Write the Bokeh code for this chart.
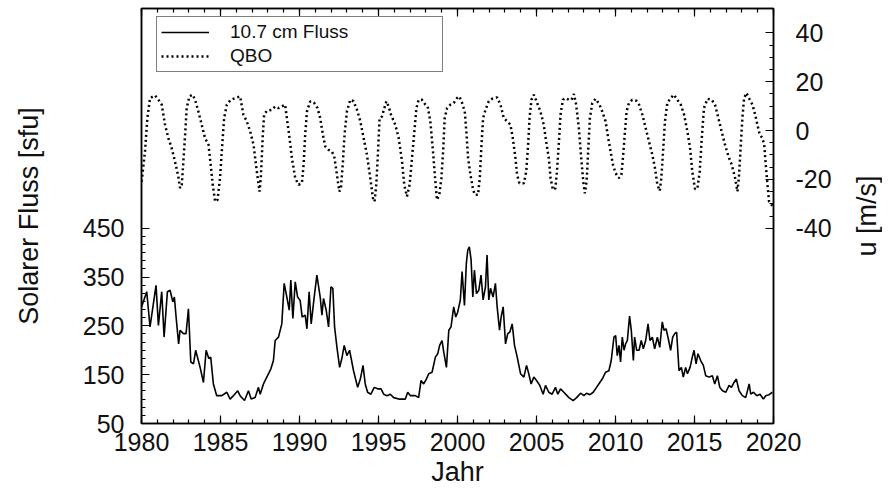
import math
from bokeh.plotting import figure
from bokeh.layouts import row
from bokeh.models import Range1d, LinearAxis, FixedTicker, Legend, LegendItem
from bokeh.core.properties import value
from bokeh.embed import file_html
from bokeh.resources import INLINE

# ---------------- data ----------------
solar_year = [1980.01, 1980.33, 1980.54, 1980.92, 1981.07, 1981.28, 1981.43, 1981.64, 1981.81, 1981.98,
              1982.08, 1982.19, 1982.35, 1982.44, 1982.65, 1982.82, 1982.97, 1983.12, 1983.29, 1983.43,
              1983.71, 1983.92, 1984.09, 1984.26, 1984.38, 1984.55, 1984.76, 1985.08, 1985.40, 1985.61,
              1985.82, 1986.09, 1986.24, 1986.52, 1986.77, 1986.94, 1987.19, 1987.40, 1987.51, 1987.72,
              1987.93, 1988.19, 1988.35, 1988.46, 1988.67, 1988.88, 1989.03, 1989.20, 1989.35, 1989.45,
              1989.58, 1989.73, 1989.88, 1990.04, 1990.17, 1990.36, 1990.47, 1990.61, 1990.74, 1990.93,
              1991.10, 1991.31, 1991.42, 1991.52, 1991.69, 1991.84, 1991.99, 1992.11, 1992.22, 1992.37,
              1992.54, 1992.68, 1992.83, 1993.00, 1993.17, 1993.42, 1993.68, 1993.85, 1994.02, 1994.16,
              1994.31, 1994.52, 1994.73, 1994.95, 1995.16, 1995.33, 1995.54, 1995.75, 1995.96, 1996.28,
              1996.55, 1996.70, 1996.85, 1997.02, 1997.33, 1997.54, 1997.69, 1997.86, 1998.03, 1998.18,
              1998.39, 1998.60, 1998.75, 1998.87, 1999.02, 1999.13, 1999.30, 1999.45, 1999.59, 1999.76,
              1999.89, 2000.01, 2000.18, 2000.29, 2000.44, 2000.56, 2000.65, 2000.75, 2000.86, 2000.97,
              2001.07, 2001.20, 2001.35, 2001.49, 2001.62, 2001.77, 2001.87, 2001.98, 2002.09, 2002.25,
              2002.40, 2002.51, 2002.66, 2002.76, 2002.89, 2003.04, 2003.18, 2003.31, 2003.46, 2003.61,
              2003.78, 2003.99, 2004.20, 2004.37, 2004.51, 2004.66, 2004.83, 2005.00, 2005.21, 2005.42,
              2005.57, 2005.78, 2005.99, 2006.20, 2006.35, 2006.52, 2006.73, 2007.05, 2007.32, 2007.54,
              2007.79, 2008.00, 2008.17, 2008.38, 2008.59, 2008.80, 2009.01, 2009.16, 2009.37, 2009.58,
              2009.73, 2009.90, 2010.01, 2010.11, 2010.22, 2010.32, 2010.43, 2010.54, 2010.64, 2010.75,
              2010.89, 2011.00, 2011.13, 2011.21, 2011.34, 2011.49, 2011.63, 2011.76, 2011.91, 2012.06,
              2012.18, 2012.33, 2012.48, 2012.65, 2012.80, 2012.96, 2013.07, 2013.20, 2013.32, 2013.49,
              2013.62, 2013.75, 2013.87, 2014.02, 2014.17, 2014.29, 2014.44, 2014.55, 2014.72, 2014.86,
              2014.97, 2015.10, 2015.22, 2015.39, 2015.56, 2015.71, 2015.92, 2016.13, 2016.28, 2016.45,
              2016.60, 2016.77, 2016.98, 2017.19, 2017.34, 2017.50, 2017.65, 2017.82, 2018.03, 2018.24,
              2018.46, 2018.56, 2018.73, 2018.94, 2019.15, 2019.36, 2019.51, 2019.72, 2019.93]
solar_flux = [289, 320, 248, 333, 251, 320, 227, 320, 323, 299,
              309, 268, 213, 241, 234, 234, 285, 176, 172, 200,
              165, 134, 200, 183, 186, 131, 107, 107, 114, 100,
              107, 117, 107, 97, 117, 100, 103, 124, 110, 131,
              145, 162, 179, 220, 227, 254, 337, 309, 282, 344,
              265, 340, 309, 302, 268, 272, 244, 320, 254, 309,
              354, 309, 272, 306, 282, 248, 330, 327, 248, 206,
              165, 183, 210, 189, 200, 158, 124, 141, 169, 131,
              114, 110, 124, 121, 121, 110, 107, 110, 103, 100,
              100, 100, 114, 107, 107, 103, 138, 131, 141, 152,
              155, 186, 193, 210, 220, 196, 165, 241, 248, 289,
              268, 278, 303, 361, 292, 378, 405, 412, 385, 309,
              364, 316, 323, 354, 303, 330, 395, 303, 327, 309,
              337, 289, 241, 268, 289, 213, 234, 237, 254, 210,
              186, 152, 145, 169, 152, 131, 145, 138, 128, 110,
              128, 114, 110, 124, 110, 121, 114, 103, 97, 103,
              112, 107, 112, 109, 114, 124, 134, 141, 155, 158,
              179, 227, 230, 189, 210, 176, 227, 200, 213, 220,
              270, 241, 179, 227, 200, 200, 220, 203, 220, 254,
              220, 227, 203, 227, 206, 258, 241, 244, 227, 200,
              227, 234, 237, 158, 165, 145, 165, 152, 165, 186,
              200, 172, 193, 179, 169, 148, 145, 148, 131, 148,
              124, 117, 114, 128, 124, 134, 141, 117, 107, 103,
              131, 110, 114, 107, 110, 100, 107, 109, 114]

qbo_year = [1980.01, 1980.22, 1980.37, 1980.54, 1980.86, 1981.07, 1981.28, 1981.49, 1981.70, 1981.91,
            1982.12, 1982.33, 1982.44, 1982.55, 1982.65, 1982.76, 1982.86, 1983.03, 1983.24, 1983.39,
            1983.60, 1983.81, 1984.02, 1984.24, 1984.38, 1984.51, 1984.66, 1984.81, 1984.97, 1985.08,
            1985.23, 1985.40, 1985.65, 1985.93, 1986.24, 1986.45, 1986.66, 1986.88, 1987.09, 1987.30,
            1987.47, 1987.55, 1987.68, 1987.76, 1987.93, 1988.25, 1988.46, 1988.67, 1988.88, 1989.09,
            1989.20, 1989.37, 1989.52, 1989.73, 1989.94, 1990.15, 1990.26, 1990.36, 1990.47, 1990.68,
            1990.93, 1991.14, 1991.31, 1991.48, 1991.63, 1991.84, 1992.05, 1992.20, 1992.37, 1992.52,
            1992.62, 1992.75, 1992.85, 1993.00, 1993.21, 1993.42, 1993.64, 1993.85, 1994.06, 1994.27,
            1994.48, 1994.65, 1994.75, 1994.86, 1994.97, 1995.07, 1995.22, 1995.37, 1995.50, 1995.64,
            1995.79, 1996.06, 1996.28, 1996.49, 1996.63, 1996.80, 1996.97, 1997.12, 1997.27, 1997.40,
            1997.54, 1997.75, 1997.97, 1998.11, 1998.28, 1998.45, 1998.60, 1998.70, 1998.85, 1998.98,
            1999.09, 1999.19, 1999.34, 1999.55, 1999.76, 1999.97, 2000.12, 2000.29, 2000.46, 2000.56,
            2000.67, 2000.82, 2000.97, 2001.09, 2001.30, 2001.41, 2001.52, 2001.62, 2001.77, 2001.98,
            2002.19, 2002.51, 2002.72, 2002.93, 2003.14, 2003.35, 2003.50, 2003.67, 2003.77, 2003.92,
            2004.20, 2004.35, 2004.47, 2004.56, 2004.68, 2004.83, 2005.04, 2005.25, 2005.46, 2005.61,
            2005.78, 2005.89, 2006.04, 2006.20, 2006.31, 2006.42, 2006.52, 2006.67, 2006.84, 2007.05,
            2007.22, 2007.37, 2007.51, 2007.68, 2007.83, 2007.96, 2008.06, 2008.17, 2008.27, 2008.38,
            2008.53, 2008.74, 2008.99, 2009.16, 2009.37, 2009.54, 2009.69, 2009.84, 2010.01, 2010.22,
            2010.37, 2010.47, 2010.60, 2010.70, 2010.85, 2011.06, 2011.32, 2011.49, 2011.70, 2011.91,
            2012.12, 2012.33, 2012.50, 2012.65, 2012.80, 2012.90, 2013.01, 2013.13, 2013.28, 2013.49,
            2013.70, 2013.91, 2014.13, 2014.34, 2014.55, 2014.72, 2014.86, 2015.03, 2015.18, 2015.33,
            2015.46, 2015.60, 2015.82, 2016.09, 2016.30, 2016.51, 2016.72, 2016.93, 2017.15, 2017.36,
            2017.57, 2017.72, 2017.82, 2017.93, 2018.03, 2018.14, 2018.29, 2018.50, 2018.67, 2018.84,
            2018.98, 2019.13, 2019.30, 2019.41, 2019.51, 2019.62, 2019.72, 2019.95]
qbo_u = [-20.9, -8.6, 5.1, 13.3, 14.4, 12.6, 10.6, 2.4, -3.1, -7.2,
         -12.7, -18.8, -23.6, -22.2, -12.7, -1.7, 9.2, 14.0, 14.7, 12.6,
         7.8, 2.4, -3.1, -5.8, -14.0, -22.2, -29.1, -28.4, -19.5, -8.6,
         5.1, 10.6, 12.6, 13.3, 14.0, 6.5, 3.8, -0.4, -5.8, -16.8,
         -25.0, -19.5, -1.7, 6.5, 8.1, 8.5, 9.9, 9.2, 9.9, 10.6,
         5.1, -3.1, -11.3, -19.5, -22.2, -21.6, -14.0, -1.7, 7.8, 12.0,
         11.3, 9.2, 5.1, -1.7, -6.5, -7.9, -8.6, -10.6, -18.1, -25.0,
         -23.6, -12.7, -1.7, 7.8, 12.6, 12.0, 8.5, 3.8, -3.1, -9.9,
         -19.5, -27.7, -29.1, -22.2, -8.6, 5.1, 5.8, 9.2, 12.0, 9.9,
         6.5, 2.4, -3.1, -12.7, -22.2, -27.0, -22.2, -11.3, -0.4, 9.2,
         12.6, 12.6, 10.6, 9.9, 3.8, -8.6, -20.9, -28.4, -26.3, -19.5,
         -8.6, 5.1, 9.2, 10.6, 11.3, 13.3, 14.0, 11.3, 7.8, -0.4,
         -11.3, -18.1, -23.6, -26.3, -26.3, -19.5, -5.8, 5.1, 8.5, 12.0,
         13.0, 13.6, 10.6, 5.1, 3.8, 2.4, -3.1, -11.3, -18.1, -21.6,
         -21.6, -16.8, -5.8, 5.1, 12.6, 14.7, 11.3, 7.8, 2.4, -4.5,
         -11.3, -19.5, -24.3, -23.6, -15.4, -4.5, 6.5, 12.6, 13.3, 12.6,
         12.6, 15.0, 10.6, 1.0, -11.3, -20.9, -25.7, -20.9, -8.6, 5.1,
         11.3, 13.0, 10.6, 7.8, 3.8, -3.1, -8.6, -14.0, -17.5, -19.5,
         -18.1, -11.3, -0.4, 7.8, 11.3, 12.6, 12.2, 10.6, 6.5, 1.0,
         -4.5, -9.9, -15.4, -22.2, -24.7, -19.5, -8.6, 3.8, 11.3, 13.3,
         14.7, 12.6, 10.6, 6.5, -0.4, -7.2, -16.8, -23.9, -23.9, -16.8,
         -3.1, 9.2, 13.0, 12.6, 10.6, 5.1, -0.4, -5.8, -10.6, -14.0,
         -19.5, -25.0, -18.1, -5.8, 5.1, 13.3, 15.4, 12.6, 10.6, 6.5,
         2.4, -1.7, -3.1, -5.8, -14.0, -22.2, -29.1, -31.0]

x_ticks = [1980, 1985, 1990, 1995, 2000, 2005, 2010, 2015, 2020]
x_minor = [y for y in range(1980, 2021)]
left_ticks = [50, 150, 250, 350, 450]
left_minor = [50 + k * 100 / 6 for k in range(0, 25)]
right_ticks = [-40, -20, 0, 20, 40]
right_minor = [v for v in range(-40, 41, 5)]

FONT = "Liberation Sans"

p = figure(width=850, height=502,
           x_range=Range1d(1980, 2020), y_range=Range1d(50, 900),
           output_backend="svg", toolbar_location=None,
           min_border_left=141, min_border_right=77,
           min_border_top=8, min_border_bottom=79)
p.extra_y_ranges = {"qbo": Range1d(-120, 50)}
p.grid.visible = False
p.outline_line_color = "black"
p.outline_line_width = 1.5
p.background_fill_color = "white"
p.border_fill_color = "white"


def style_axis(ax):
    ax.major_tick_in = 8
    ax.major_tick_out = 0
    ax.minor_tick_in = 4
    ax.minor_tick_out = 0
    ax.major_tick_line_color = "black"
    ax.minor_tick_line_color = "black"
    ax.major_tick_line_width = 1.2
    ax.minor_tick_line_width = 1.2
    ax.axis_line_color = "black"
    ax.axis_line_width = 1.5
    ax.major_label_text_font = FONT
    ax.major_label_text_font_size = "25px"
    ax.major_label_text_color = "#111111"
    ax.axis_label_text_font = FONT
    ax.axis_label_text_font_size = "27px"
    ax.axis_label_text_font_style = "normal"
    ax.axis_label_text_color = "#111111"


xa = p.xaxis[0]
xa.ticker = FixedTicker(ticks=x_ticks, minor_ticks=x_minor)
xa.axis_label = "Jahr"
style_axis(xa)
xa.major_label_standoff = 9
xa.axis_label_standoff = 3

ya = p.yaxis[0]
ya.ticker = FixedTicker(ticks=left_ticks, minor_ticks=left_minor)
ya.axis_label = "Solarer Fluss [sfu]"
style_axis(ya)
ya.major_label_standoff = 17
ya.axis_label_standoff = 36

ra = LinearAxis(y_range_name="qbo",
                ticker=FixedTicker(ticks=right_ticks, minor_ticks=right_minor))
style_axis(ra)
ra.major_label_overrides = {t: str(t) for t in right_ticks}
ra.major_label_standoff = 22
p.add_layout(ra, "right")

ta = LinearAxis(ticker=FixedTicker(ticks=x_ticks, minor_ticks=x_minor))
style_axis(ta)
ta.major_label_text_font_size = "1px"
ta.major_label_text_color = None
ta.major_label_standoff = 0
p.add_layout(ta, "above")

r1 = p.line(solar_year, solar_flux, line_color="black", line_width=1.6)
r2 = p.line(qbo_year, qbo_u, y_range_name="qbo", line_color="black",
            line_width=2.5, line_dash="2 3")

legend = Legend(items=[LegendItem(label="10.7 cm Fluss", renderers=[r1]),
                       LegendItem(label="QBO", renderers=[r2])],
                location=(15, 351))
legend.border_line_color = "black"
legend.border_line_width = 1.5
legend.background_fill_color = "white"
legend.background_fill_alpha = 1.0
legend.label_text_font = FONT
legend.label_text_font_size = "19px"
legend.label_text_color = "#111111"
legend.padding = 4
legend.spacing = 2
legend.margin = 0
legend.glyph_height = 20
legend.label_height = 20
legend.glyph_width = 48
legend.label_standoff = 21
legend.label_width = 208
p.add_layout(legend, "center")

# narrow companion figure holding the right axis title (reads bottom-to-top)
q = figure(width=32, height=502, x_range=Range1d(0, 1), y_range=Range1d(0, 1),
           output_backend="svg", toolbar_location=None,
           x_axis_type=None, y_axis_type=None,
           min_border_left=0, min_border_right=0,
           min_border_top=8, min_border_bottom=79)
q.grid.visible = False
q.outline_line_color = None
q.background_fill_color = "white"
q.border_fill_color = "white"
q.text(x=[0.5], y=[0.5], text=["u [m/s]"], angle=math.pi / 2,
       text_align="center", text_baseline="middle",
       text_font=value(FONT), text_font_size=value("27px"), text_color="#111111")

layout = row(p, q, spacing=0)
open("out.html", "w").write(file_html(layout, INLINE))
